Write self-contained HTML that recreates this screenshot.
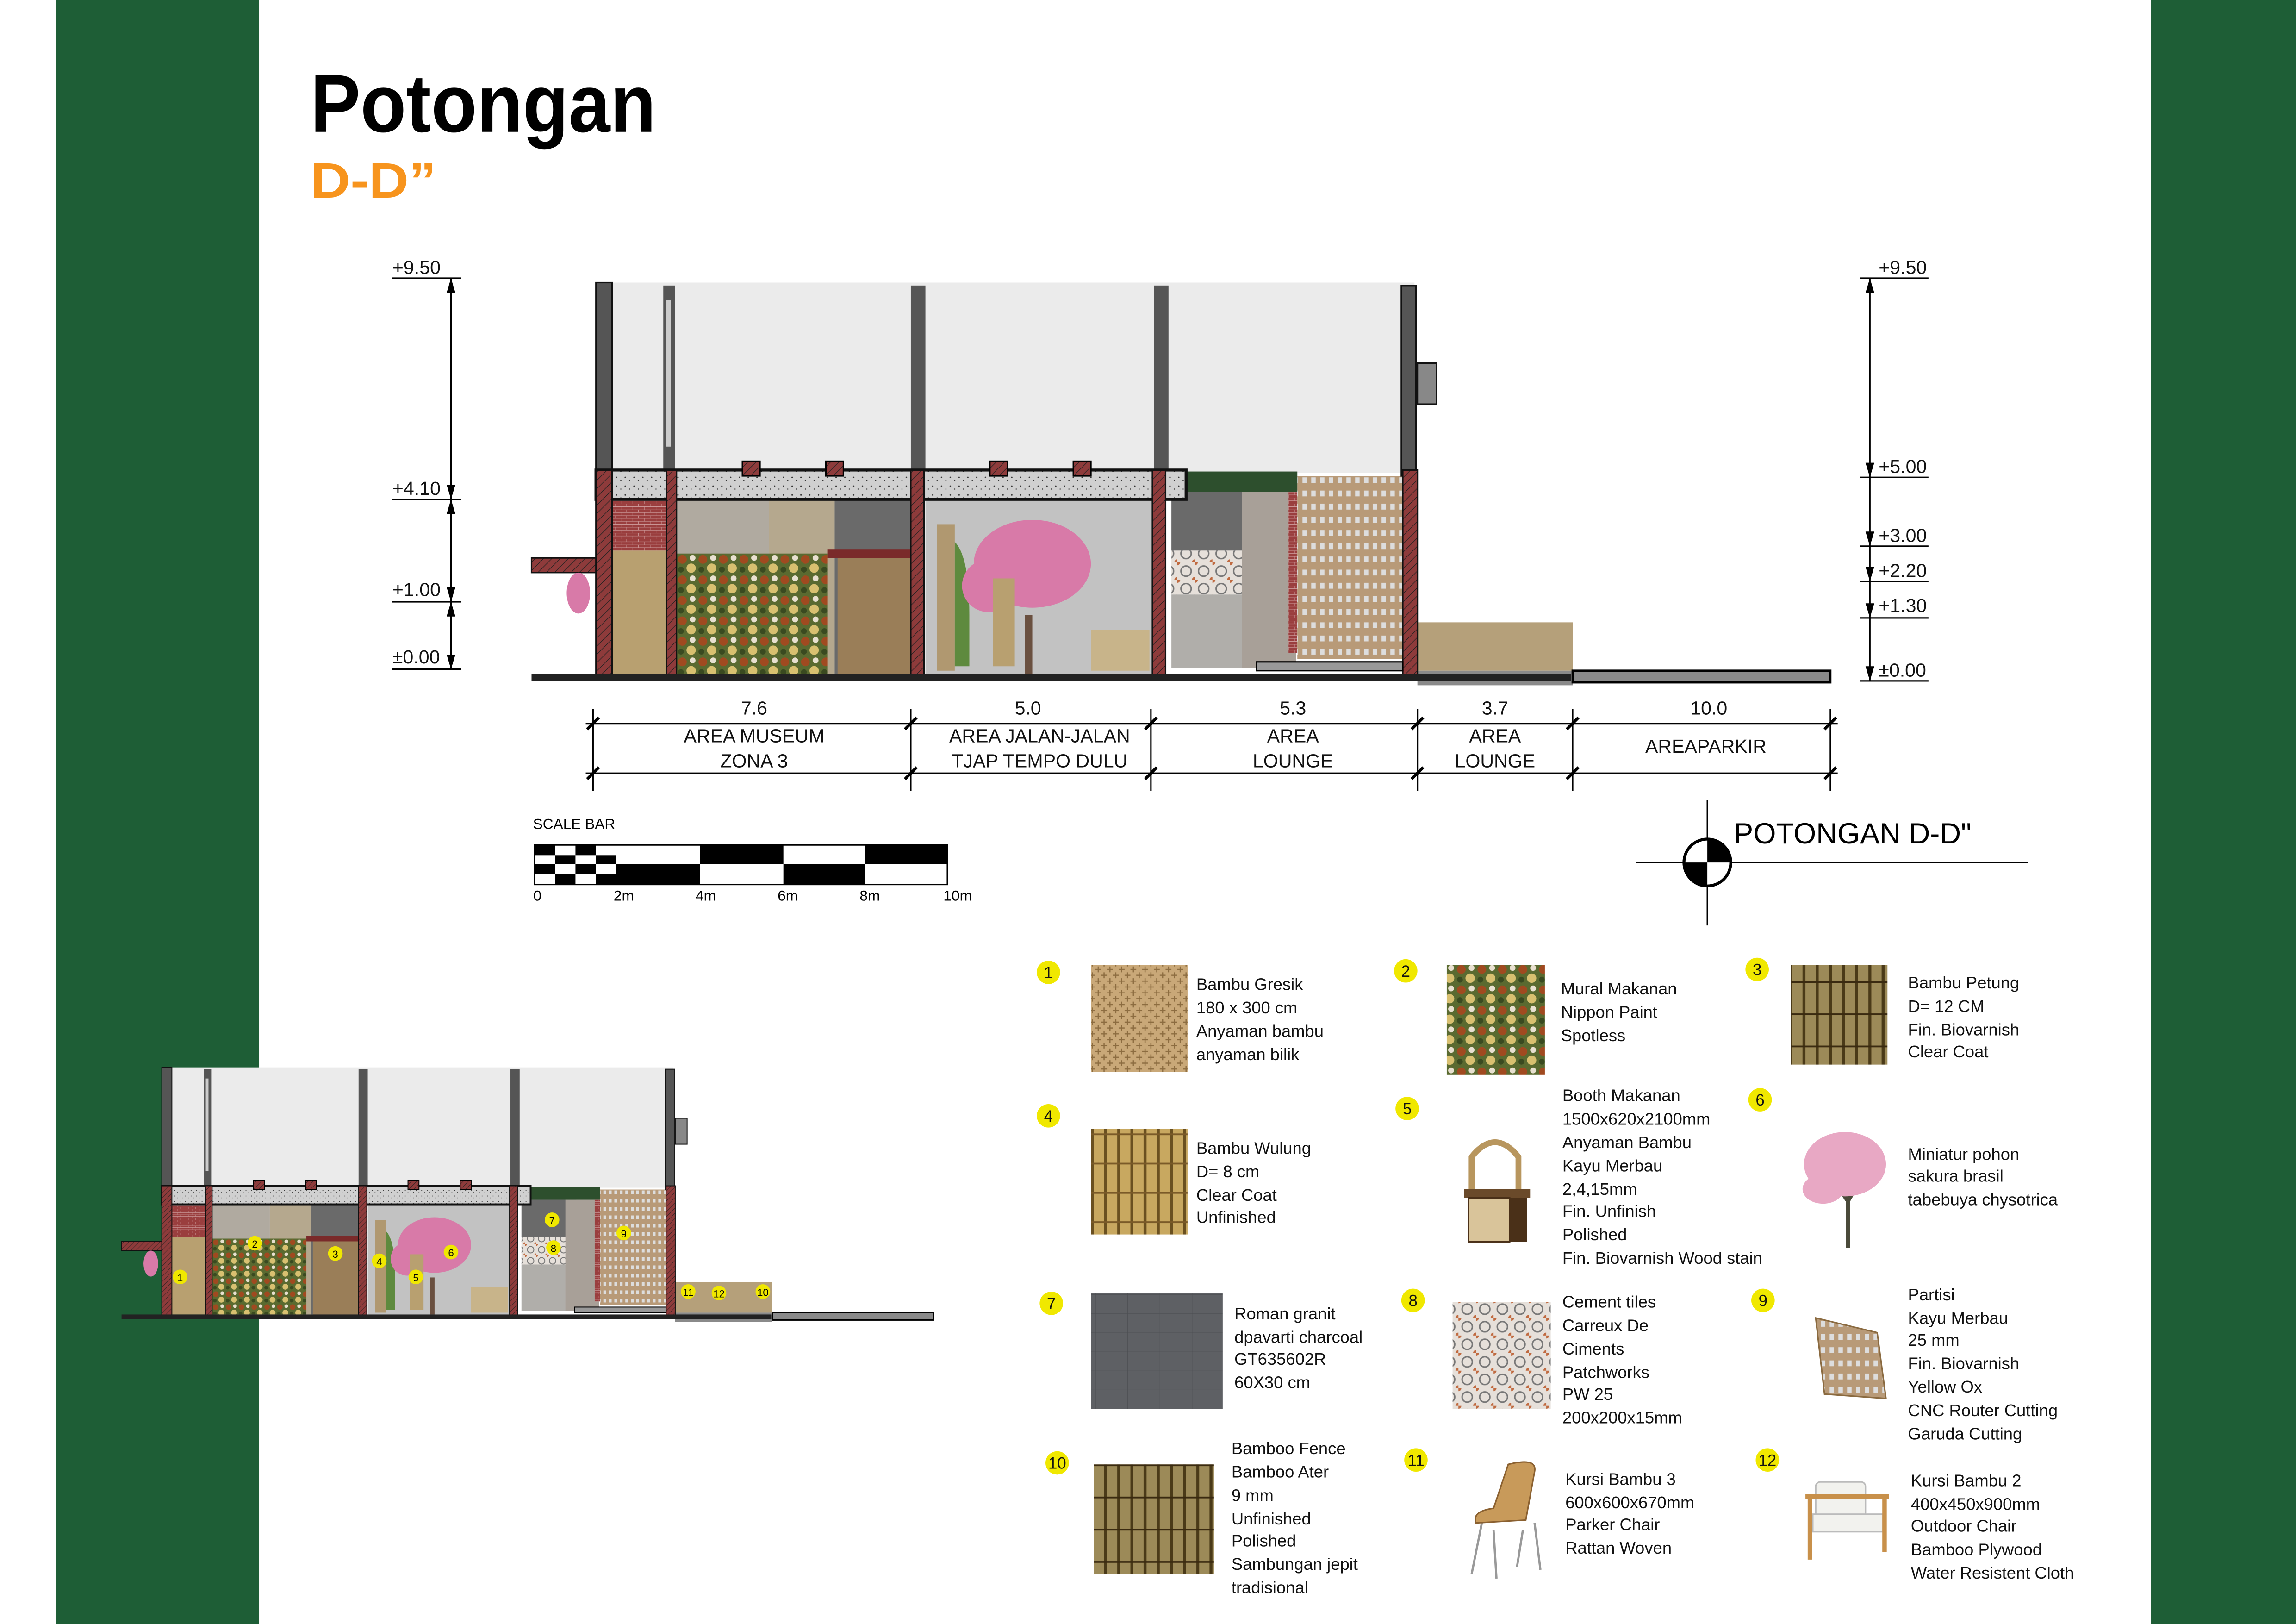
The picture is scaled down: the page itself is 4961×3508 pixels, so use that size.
<!DOCTYPE html>
<html><head><meta charset="utf-8"><style>
html,body{margin:0;padding:0;background:#fff}
svg{display:block}
text{font-family:"Liberation Sans Narrow","Liberation Sans",sans-serif}
.t{font-size:11.5px;fill:#111}
.d{font-size:13px;fill:#111}
.n{font-size:11px;fill:#111;text-anchor:middle}
</style></head><body>
<svg width="4961" height="3508" viewBox="0 0 1568 1109" preserveAspectRatio="none" xmlns="http://www.w3.org/2000/svg" xmlns:xlink="http://www.w3.org/1999/xlink">
<defs>
<pattern id="hatch" width="4" height="4" patternUnits="userSpaceOnUse" patternTransform="rotate(45)"><rect width="4" height="4" fill="#8e3b3b"/><line x1="0" y1="0" x2="0" y2="4" stroke="#222" stroke-width="0.8"/></pattern>
<pattern id="brick" width="8" height="4" patternUnits="userSpaceOnUse"><rect width="8" height="4" fill="#9a3e3e"/><path d="M0 0H8M4 0V2M0 2H8M0 2V4" stroke="#c99" stroke-width="0.4"/></pattern>
<pattern id="bamboo" width="9" height="20" patternUnits="userSpaceOnUse"><rect width="9" height="20" fill="#c8a860"/><rect x="7" width="2" height="20" fill="#6a5020"/><rect y="14" width="9" height="1.2" fill="#7a5a28"/></pattern>
<pattern id="bamboo2" width="9" height="22" patternUnits="userSpaceOnUse"><rect width="9" height="22" fill="#9c8a58"/><rect x="7" width="2" height="22" fill="#4a3a18"/><rect y="10" width="9" height="1.2" fill="#3a2a10"/></pattern>
<pattern id="weave" width="8" height="8" patternUnits="userSpaceOnUse"><rect width="8" height="8" fill="#c9a878"/><path d="M0 2H4M4 6H8M2 0V4M6 4V8" stroke="#8c6c40" stroke-width="0.8"/></pattern>
<pattern id="mural" width="14" height="14" patternUnits="userSpaceOnUse"><rect width="14" height="14" fill="#5a6a30"/><circle cx="4" cy="4" r="3" fill="#a04a20"/><circle cx="10" cy="10" r="3.2" fill="#d8c070"/><circle cx="11" cy="3" r="2" fill="#e8e0d0"/><circle cx="3" cy="11" r="2" fill="#3a4a20"/></pattern>
<pattern id="tiles" width="12" height="12" patternUnits="userSpaceOnUse"><rect width="12" height="12" fill="#e6e0da"/><circle cx="6" cy="6" r="3.5" fill="none" stroke="#777" stroke-width="1"/><circle cx="0" cy="0" r="2" fill="#c06a40"/><circle cx="12" cy="12" r="2" fill="#c06a40"/></pattern>
<pattern id="granit" width="22" height="13" patternUnits="userSpaceOnUse"><rect width="22" height="13" fill="#5e6064"/><path d="M0 0H22M0 0V13" stroke="#4c4e52" stroke-width="0.6"/></pattern>
<pattern id="screen" width="6" height="9" patternUnits="userSpaceOnUse"><rect width="6" height="9" fill="#b89a78"/><rect x="1.5" y="2" width="3" height="4" fill="#ddd"/></pattern>
<pattern id="conc" width="6" height="6" patternUnits="userSpaceOnUse"><rect width="6" height="6" fill="#d0d0d0"/><circle cx="1" cy="2" r="0.5" fill="#333"/><circle cx="4" cy="4" r="0.4" fill="#333"/></pattern>

<g id="sec">
 <rect x="410" y="193" width="556" height="130" fill="#ebebeb"/>
 <rect x="418" y="340" width="37" height="36" fill="url(#brick)"/>
 <rect x="418" y="376" width="37" height="84" fill="#b8a070"/>
 <rect x="462" y="340" width="63" height="120" fill="#b0aaa0"/>
 <rect x="525" y="340" width="45" height="120" fill="#b5a88e"/>
 <rect x="570" y="340" width="52" height="120" fill="#6a6a6a"/>
 <rect x="565" y="375" width="57" height="6" fill="#7a2a2a"/>
 <rect x="572" y="381" width="50" height="79" fill="#9a7e58"/>
 <rect x="462" y="378" width="103" height="82" fill="url(#mural)"/>
 <rect x="632" y="340" width="155" height="120" fill="#c2c2c2"/>
 <rect x="640" y="358" width="12" height="100" fill="#b09870"/>
 <path d="M652 370 Q662 380 662 420 V455 H652Z" fill="#5e8a3e"/>
 <ellipse cx="705" cy="385" rx="40" ry="30" fill="#d87aa8"/>
 <ellipse cx="675" cy="400" rx="18" ry="18" fill="#d87aa8"/>
 <rect x="678" y="395" width="15" height="60" fill="#b8a070"/>
 <rect x="700" y="420" width="5" height="40" fill="#6a5040"/>
 <rect x="745" y="430" width="40" height="28" fill="#c8b48a"/>
 <rect x="800" y="336" width="60" height="40" fill="#6a6a6a"/>
 <rect x="800" y="376" width="60" height="30" fill="url(#tiles)"/>
 <rect x="800" y="406" width="60" height="50" fill="#b0aeaa"/>
 <rect x="848" y="336" width="37" height="120" fill="#a8a098"/>
 <rect x="880" y="336" width="6" height="110" fill="url(#brick)"/>
 <rect x="886" y="325" width="72" height="125" fill="url(#screen)"/>
 <rect x="810" y="322" width="76" height="14" fill="#2d4f2d"/>
 <rect x="968" y="425" width="106" height="33" fill="#b5a07a"/>
 <rect x="968" y="458" width="106" height="10" fill="#8a8a8a"/>
 <rect x="1074" y="458" width="176" height="8" fill="#8a8a8a" stroke="#000" stroke-width="1.5"/>
 <rect x="407" y="193" width="11" height="132" fill="#555" stroke="#111" stroke-width="1"/>
 <rect x="453" y="195" width="8" height="130" fill="#555"/>
 <rect x="455" y="205" width="3" height="100" fill="#ccc"/>
 <rect x="622" y="195" width="10" height="130" fill="#555"/>
 <rect x="788" y="195" width="10" height="130" fill="#555"/>
 <rect x="957" y="195" width="10" height="130" fill="#555" stroke="#111" stroke-width="1"/>
 <rect x="968" y="248" width="13" height="28" fill="#888" stroke="#111" stroke-width="1"/>
 <rect x="407" y="321" width="403" height="20" fill="url(#conc)" stroke="#111" stroke-width="2"/>
 <rect x="507" y="315" width="12" height="10" fill="url(#hatch)" stroke="#000"/>
 <rect x="564" y="315" width="12" height="10" fill="url(#hatch)" stroke="#000"/>
 <rect x="676" y="315" width="12" height="10" fill="url(#hatch)" stroke="#000"/>
 <rect x="733" y="315" width="12" height="10" fill="url(#hatch)" stroke="#000"/>
 <rect x="407" y="321" width="11" height="140" fill="url(#hatch)" stroke="#111"/>
 <rect x="455" y="321" width="7" height="140" fill="url(#hatch)" stroke="#111"/>
 <rect x="622" y="321" width="9" height="140" fill="url(#hatch)" stroke="#111"/>
 <rect x="787" y="321" width="9" height="140" fill="url(#hatch)" stroke="#111"/>
 <rect x="958" y="321" width="10" height="140" fill="url(#hatch)" stroke="#111"/>
 <rect x="363" y="381" width="44" height="10" fill="url(#hatch)" stroke="#111"/>
 <ellipse cx="395" cy="405" rx="8" ry="14" fill="#d87aa8"/>
 <rect x="858" y="452" width="100" height="6" fill="#999" stroke="#000"/>
 <rect x="363" y="460" width="710" height="5" fill="#222"/>
</g>
</defs>

<rect x="38" y="0" width="139" height="1109" fill="#1e5e36"/>
<rect x="1469" y="0" width="99" height="1109" fill="#1e5e36"/>

<text x="212" y="90" font-weight="bold" font-size="56" textLength="236" lengthAdjust="spacingAndGlyphs" style="font-family:'Liberation Sans',sans-serif">Potongan</text>
<text x="212" y="135" font-weight="bold" font-size="34" fill="#f7941d" style="font-family:'Liberation Sans',sans-serif" textLength="86" lengthAdjust="spacingAndGlyphs">D-D”</text>

<g stroke="#000" stroke-width="1" fill="none">
<line x1="308" y1="190" x2="308" y2="457"/>
<line x1="268" y1="190" x2="315" y2="190"/><line x1="268" y1="341" x2="315" y2="341"/>
<line x1="268" y1="411" x2="315" y2="411"/><line x1="268" y1="457" x2="315" y2="457"/>
<line x1="1277" y1="190" x2="1277" y2="465"/>
<line x1="1270" y1="190" x2="1317" y2="190"/><line x1="1270" y1="326" x2="1317" y2="326"/>
<line x1="1270" y1="373" x2="1317" y2="373"/><line x1="1270" y1="397" x2="1317" y2="397"/>
<line x1="1270" y1="422" x2="1317" y2="422"/><line x1="1270" y1="465" x2="1317" y2="465"/>
</g>
<g fill="#000">
<path d="M305 200 308 190 311 200Z"/><path d="M305 331 308 341 311 331Z"/><path d="M305 351 308 341 311 351Z"/><path d="M305 401 308 411 311 401Z"/><path d="M305 421 308 411 311 421Z"/><path d="M305 447 308 457 311 447Z"/>
<path d="M1274 200 1277 190 1280 200Z"/><path d="M1274 316 1277 326 1280 316Z"/><path d="M1274 363 1277 373 1280 363Z"/><path d="M1274 387 1277 397 1280 387Z"/><path d="M1274 412 1277 422 1280 412Z"/><path d="M1274 455 1277 465 1280 455Z"/>
</g>
<g class="d">
<text x="268" y="187">+9.50</text><text x="268" y="338">+4.10</text><text x="268" y="407">+1.00</text><text x="268" y="453">±0.00</text>
<text x="1283" y="187">+9.50</text><text x="1283" y="323">+5.00</text><text x="1283" y="370">+3.00</text><text x="1283" y="394">+2.20</text><text x="1283" y="418">+1.30</text><text x="1283" y="462">±0.00</text>
</g>

<use href="#sec" xlink:href="#sec"/>

<g stroke="#000" stroke-width="1">
<line x1="400" y1="494" x2="1255" y2="494"/><line x1="400" y1="528" x2="1255" y2="528"/>
<line x1="405" y1="484" x2="405" y2="540"/><line x1="622" y1="484" x2="622" y2="540"/><line x1="786" y1="484" x2="786" y2="540"/><line x1="968" y1="484" x2="968" y2="540"/><line x1="1074" y1="484" x2="1074" y2="540"/><line x1="1250" y1="484" x2="1250" y2="540"/>
<g stroke-width="2"><line x1="401" y1="498" x2="409" y2="490"/><line x1="618" y1="498" x2="626" y2="490"/><line x1="782" y1="498" x2="790" y2="490"/><line x1="964" y1="498" x2="972" y2="490"/><line x1="1070" y1="498" x2="1078" y2="490"/><line x1="1246" y1="498" x2="1254" y2="490"/>
<line x1="401" y1="532" x2="409" y2="524"/><line x1="618" y1="532" x2="626" y2="524"/><line x1="782" y1="532" x2="790" y2="524"/><line x1="964" y1="532" x2="972" y2="524"/><line x1="1070" y1="532" x2="1078" y2="524"/><line x1="1246" y1="532" x2="1254" y2="524"/></g>
</g>
<g class="d" text-anchor="middle">
<text x="515" y="488">7.6</text><text x="702" y="488">5.0</text><text x="883" y="488">5.3</text><text x="1021" y="488">3.7</text><text x="1167" y="488">10.0</text>
<text x="515" y="507">AREA MUSEUM</text><text x="515" y="524">ZONA 3</text>
<text x="710" y="507">AREA JALAN-JALAN</text><text x="710" y="524">TJAP TEMPO DULU</text>
<text x="883" y="507">AREA</text><text x="883" y="524">LOUNGE</text>
<text x="1021" y="507">AREA</text><text x="1021" y="524">LOUNGE</text>
<text x="1165" y="514">AREAPARKIR</text>
</g>

<text x="364" y="566" font-size="10">SCALE BAR</text>
<rect x="365" y="577" width="282" height="27" fill="#fff" stroke="#000"/>
<g fill="#000">
<rect x="365" y="577" width="14" height="7"/><rect x="379" y="584" width="14" height="6"/><rect x="393" y="577" width="14" height="7"/><rect x="407" y="584" width="14" height="6"/>
<rect x="365" y="590" width="14" height="7"/><rect x="379" y="597" width="14" height="7"/><rect x="393" y="590" width="14" height="7"/><rect x="407" y="597" width="14" height="7"/>
<rect x="478" y="577" width="57" height="13"/><rect x="591" y="577" width="56" height="13"/>
<rect x="421" y="590" width="57" height="14"/><rect x="535" y="590" width="56" height="14"/>
</g>
<g font-size="10" text-anchor="middle"><text x="367" y="615">0</text><text x="426" y="615">2m</text><text x="482" y="615">4m</text><text x="538" y="615">6m</text><text x="594" y="615">8m</text><text x="654" y="615">10m</text></g>

<line x1="1117" y1="589" x2="1385" y2="589" stroke="#000"/>
<line x1="1166" y1="546" x2="1166" y2="632" stroke="#000"/>
<circle cx="1166" cy="589" r="16" fill="#fff" stroke="#000" stroke-width="2"/>
<path d="M1166 573 A16 16 0 0 1 1182 589 H1166Z M1166 605 A16 16 0 0 1 1150 589 H1166Z" fill="#000"/>
<text x="1184" y="576" font-size="20" style="font-family:'Liberation Sans',sans-serif">POTONGAN D-D"</text>

<g transform="translate(83 727) scale(0.625 0.632) translate(-363 -190)"><use href="#sec" xlink:href="#sec"/></g>
<g fill="#f0e800">
<circle cx="123" cy="872" r="5"/><circle cx="174" cy="849" r="5"/><circle cx="229" cy="856" r="5"/><circle cx="259" cy="861" r="5"/><circle cx="284" cy="872" r="5"/><circle cx="308" cy="855" r="5"/><circle cx="377" cy="833" r="5"/><circle cx="378" cy="852" r="5"/><circle cx="426" cy="842" r="5"/><circle cx="470" cy="882" r="5"/><circle cx="491" cy="883" r="5"/><circle cx="521" cy="882" r="5"/>
</g>
<g font-size="7" text-anchor="middle"><text x="123" y="875">1</text><text x="174" y="852">2</text><text x="229" y="859">3</text><text x="259" y="864">4</text><text x="284" y="875">5</text><text x="308" y="858">6</text><text x="377" y="836">7</text><text x="378" y="855">8</text><text x="426" y="845">9</text><text x="470" y="885">11</text><text x="491" y="886">12</text><text x="521" y="885">10</text></g>

<g fill="#f0e800">
<circle cx="716" cy="664" r="8"/><circle cx="960" cy="663" r="8"/><circle cx="1200" cy="662" r="8"/>
<circle cx="716" cy="762" r="8"/><circle cx="961" cy="757" r="8"/><circle cx="1202" cy="751" r="8"/>
<circle cx="718" cy="890" r="8"/><circle cx="965" cy="888" r="8"/><circle cx="1204" cy="888" r="8"/>
<circle cx="722" cy="999" r="8"/><circle cx="967" cy="997" r="8"/><circle cx="1207" cy="997" r="8"/>
</g>
<g class="n">
<text x="716" y="668">1</text><text x="960" y="667">2</text><text x="1200" y="666">3</text>
<text x="716" y="766">4</text><text x="961" y="761">5</text><text x="1202" y="755">6</text>
<text x="718" y="894">7</text><text x="965" y="892">8</text><text x="1204" y="892">9</text>
<text x="722" y="1003">10</text><text x="967" y="1001">11</text><text x="1207" y="1001">12</text>
</g>
<rect x="745" y="659" width="66" height="73" fill="url(#weave)"/>
<rect x="988" y="659" width="67" height="75" fill="url(#mural)"/>
<rect x="1223" y="659" width="66" height="68" fill="url(#bamboo2)"/>
<rect x="745" y="771" width="66" height="72" fill="url(#bamboo)"/>
<g><path d="M1005 812 V790 Q1021 770 1037 790 V812" fill="none" stroke="#b8965e" stroke-width="4"/><rect x="1000" y="812" width="45" height="6" fill="#6a4a2a"/><rect x="1003" y="818" width="28" height="30" fill="#d9c49a" stroke="#4a3018"/><rect x="1031" y="818" width="12" height="30" fill="#4a3018"/></g>
<g><path d="M1262 852 V820 L1248 800 M1262 820 L1275 798" stroke="#4a4a3a" stroke-width="3" fill="none"/><ellipse cx="1260" cy="795" rx="28" ry="22" fill="#e8a8c4"/><ellipse cx="1245" cy="812" rx="14" ry="10" fill="#e8a8c4"/></g>
<rect x="745" y="883" width="90" height="79" fill="url(#granit)"/>
<rect x="992" y="889" width="67" height="73" fill="url(#tiles)"/>
<path d="M1240 900 L1282 910 L1288 955 L1246 952Z" fill="url(#screen)" stroke="#8a6a40"/>
<rect x="747" y="1000" width="82" height="75" fill="url(#bamboo2)"/>
<g stroke="#999" stroke-width="1.5" fill="none"><path d="M1012 1040 L1005 1075 M1048 1040 L1052 1072 M1020 1045 L1022 1078 M1040 1045 L1036 1070"/></g>
<path d="M1030 1000 Q1050 995 1048 1005 L1042 1038 L1008 1040 Q1005 1032 1020 1030 Z" fill="#c89a5a" stroke="#8a6030"/>
<g><rect x="1240" y="1012" width="34" height="24" rx="3" fill="#f2f2ee" stroke="#bbb"/><rect x="1238" y="1034" width="48" height="12" fill="#f2f2ee" stroke="#bbb"/><path d="M1233 1022 H1290 M1236 1022 V1065 M1287 1022 V1060" stroke="#c8904a" stroke-width="3" fill="none"/></g>

<g class="t">
<text x="817" y="676">Bambu Gresik</text><text x="817" y="692">180 x 300 cm</text><text x="817" y="708">Anyaman bambu</text><text x="817" y="724">anyaman bilik</text>
<text x="1066" y="679">Mural Makanan</text><text x="1066" y="695">Nippon Paint</text><text x="1066" y="711">Spotless</text>
<text x="1303" y="675">Bambu Petung</text><text x="1303" y="691">D= 12 CM</text><text x="1303" y="707">Fin. Biovarnish</text><text x="1303" y="722">Clear Coat</text>
<text x="817" y="788">Bambu Wulung</text><text x="817" y="804">D= 8 cm</text><text x="817" y="820">Clear Coat</text><text x="817" y="835">Unfinished</text>
<text x="1067" y="752">Booth Makanan</text><text x="1067" y="768">1500x620x2100mm</text><text x="1067" y="784">Anyaman Bambu</text><text x="1067" y="800">Kayu Merbau</text><text x="1067" y="816">2,4,15mm</text><text x="1067" y="831">Fin. Unfinish</text><text x="1067" y="847">Polished</text><text x="1067" y="863">Fin. Biovarnish Wood stain</text>
<text x="1303" y="792">Miniatur pohon</text><text x="1303" y="807">sakura brasil</text><text x="1303" y="823">tabebuya chysotrica</text>
<text x="843" y="901">Roman granit</text><text x="843" y="917">dpavarti charcoal</text><text x="843" y="932">GT635602R</text><text x="843" y="948">60X30 cm</text>
<text x="1067" y="893">Cement tiles</text><text x="1067" y="909">Carreux De</text><text x="1067" y="925">Ciments</text><text x="1067" y="941">Patchworks</text><text x="1067" y="956">PW 25</text><text x="1067" y="972">200x200x15mm</text>
<text x="1303" y="888">Partisi</text><text x="1303" y="904">Kayu Merbau</text><text x="1303" y="919">25 mm</text><text x="1303" y="935">Fin. Biovarnish</text><text x="1303" y="951">Yellow Ox</text><text x="1303" y="967">CNC Router Cutting</text><text x="1303" y="983">Garuda Cutting</text>
<text x="841" y="993">Bamboo Fence</text><text x="841" y="1009">Bamboo Ater</text><text x="841" y="1025">9 mm</text><text x="841" y="1041">Unfinished</text><text x="841" y="1056">Polished</text><text x="841" y="1072">Sambungan jepit</text><text x="841" y="1088">tradisional</text>
<text x="1069" y="1014">Kursi Bambu 3</text><text x="1069" y="1030">600x600x670mm</text><text x="1069" y="1045">Parker Chair</text><text x="1069" y="1061">Rattan Woven</text>
<text x="1305" y="1015">Kursi Bambu 2</text><text x="1305" y="1031">400x450x900mm</text><text x="1305" y="1046">Outdoor Chair</text><text x="1305" y="1062">Bamboo Plywood</text><text x="1305" y="1078">Water Resistent Cloth</text>
</g>
</svg>
</body></html>
